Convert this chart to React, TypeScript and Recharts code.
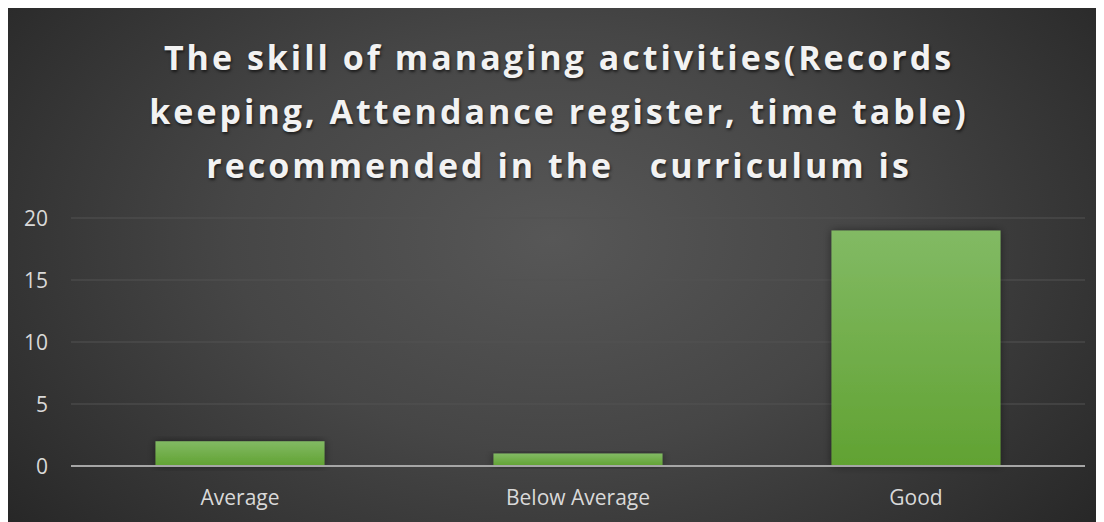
import { BarChart, Bar, XAxis, YAxis, CartesianGrid } from 'recharts'

const font = '"Open Sans", "Noto Sans", sans-serif'

const categories = ['Average', 'Below Average', 'Good']
const counts = [2, 1, 19]
const yTicks = [0, 5, 10, 15, 20]
const titleLines = [
  'The skill of managing activities(Records',
  'keeping, Attendance register, time table)',
  'recommended in the \u00a0 curriculum is',
]

const data = categories.map((name, i) => ({ name, value: counts[i] }))

const XTick = ({ x, y, payload }: any) => (
  <text x={x} y={y} dy={21} textAnchor="middle" fill="#d9d9d9" fontSize={21} fontFamily={font}>
    {payload.value}
  </text>
)

const YTick = ({ x, y, payload }: any) => (
  <text x={x} y={y} dy={7.5} textAnchor="end" fill="#d9d9d9" fontSize={21} fontFamily={font}>
    {payload.value}
  </text>
)

export default function App() {
  return (
    <div
      style={{
        position: 'relative',
        width: 1090,
        height: 514,
        marginLeft: -1,
        background: 'radial-gradient(ellipse 65% 90% at 50% 45%, #575757 0%, #464646 45%, #2f2f2f 85%, #262626 100%)',
        fontFamily: font,
      }}
    >
      <div
        style={{
          position: 'absolute',
          top: 22,
          left: 7,
          width: '100%',
          textAlign: 'center',
          color: '#f2f2f2',
          fontWeight: 700,
          fontSize: 34,
          lineHeight: '54px',
          letterSpacing: 3,
          textShadow: '1px 2px 3px rgba(0,0,0,0.6)',
        }}
      >
        {titleLines.map((l) => (
          <div key={l}>{l}</div>
        ))}
      </div>
      <BarChart
        width={1090}
        height={514}
        data={data}
        margin={{ top: 210, right: 12, left: 0, bottom: 26 }}
        barCategoryGap="25%"
        style={{ position: 'absolute', top: 0, left: 0 }}
      >
        <defs>
          <linearGradient id="barFill" x1="0" y1="0" x2="0" y2="1">
            <stop offset="0%" stopColor="#82ba64" />
            <stop offset="100%" stopColor="#61a232" />
          </linearGradient>
          <filter id="barShadow" x="-20%" y="-20%" width="140%" height="140%">
            <feDropShadow dx="0" dy="0" stdDeviation="4" floodColor="#000" floodOpacity="0.45" />
          </filter>
        </defs>
        <CartesianGrid vertical={false} stroke="#525252" strokeWidth={1} />
        <XAxis
          dataKey="name"
          height={30}
          axisLine={{ stroke: '#a6a6a6', strokeWidth: 2 }}
          tickLine={false}
          tickSize={0}
          tickMargin={18}
          tick={<XTick />}
        />
        <YAxis
          width={64}
          domain={[0, 20]}
          ticks={yTicks}
          axisLine={false}
          tickLine={false}
          tickSize={0}
          tickMargin={23}
          tick={<YTick />}
        />
        <Bar dataKey="value" fill="url(#barFill)" filter="url(#barShadow)" isAnimationActive={false} />
      </BarChart>
    </div>
  )
}
